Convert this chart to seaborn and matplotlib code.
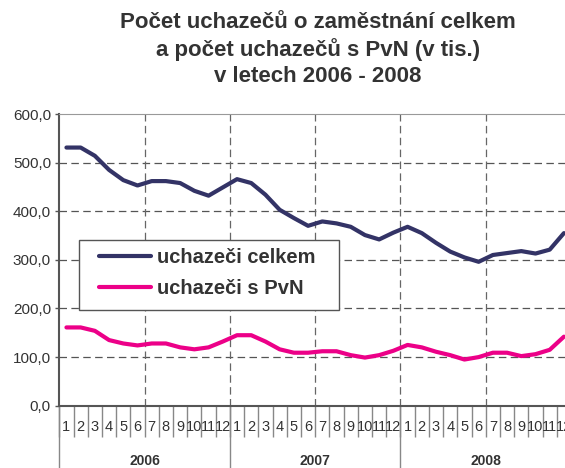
import numpy as np
import pandas as pd
import matplotlib
matplotlib.use('Agg')
import matplotlib.pyplot as plt
from matplotlib.patches import Rectangle
import seaborn as sns


# DATA (v tis.) - months 2006..2008
years = ['2006', '2007', '2008']
months = [str(m) for m in range(1, 13)] * 3

celkem = [531, 531, 514, 485, 464, 453, 462, 462, 458, 442, 432, 449,
          466, 458, 434, 403, 386, 370, 379, 375, 368, 351, 342, 356,
          368, 355, 335, 317, 305, 296, 310, 314, 318, 313, 321, 355]

pvn = [161, 161, 154, 135, 128, 124, 128, 128, 120, 116, 120, 132,
       145, 145, 132, 116, 109, 109, 112, 112, 104, 99, 104, 113,
       125, 120, 111, 104, 95, 100, 109, 109, 102, 106, 115, 142]

labels = ['uchazeči celkem', 'uchazeči s PvN']
colors = ['#333366', '#EC0088']

df = pd.DataFrame({
    'idx': list(range(36)) * 2,
    'value': celkem + pvn,
    'series': [labels[0]] * 36 + [labels[1]] * 36,
})

sns.set_style('white')
plt.rcParams['font.family'] = ['Liberation Sans', 'DejaVu Sans']

fig = plt.figure(figsize=(5.65, 4.68), dpi=100)
ax = fig.add_axes([0.105, 0.1331, 0.9057, 0.6233])

sns.lineplot(data=df, x='idx', y='value', hue='series',
             palette=colors, linewidth=3, legend=False, ax=ax)
data_lines = list(ax.lines[:2])

ax.set_xlim(-0.5, 35.5)
ax.set_ylim(0, 600)
ax.set_xlabel('')
ax.set_ylabel('')

# Y AXIS
ax.set_yticks(np.arange(0, 601, 100))
ax.set_yticklabels(['%d,0' % v for v in range(0, 601, 100)])
ax.tick_params(axis='y', direction='out', length=3, width=1, color='#555555',
               labelsize=11, labelcolor='#333333', pad=3, left=True)

# horizontal dashed grid
for v in range(100, 600, 100):
    ax.axhline(v, color='#555555', lw=0.9, ls=(0, (6, 3.5)), zorder=0)
# vertical dashed grid every 6 months
for b in [5.5, 11.5, 17.5, 23.5, 29.5]:
    ax.axvline(b, color='#666666', lw=0.9, ls=(0, (6, 3.5)), zorder=0)

# X AXIS: separators as major ticks, month labels as minor ticks
ax.set_xticks(np.arange(-0.5, 36, 1))
ax.set_xticklabels([])
ax.tick_params(axis='x', which='major', direction='out', length=22.5,
               width=1, color='#888888', bottom=True)
ax.set_xticks(np.arange(0, 36), minor=True)
ax.set_xticklabels(months, minor=True)
ax.tick_params(axis='x', which='minor', length=0, pad=10.5, labelsize=10.5,
               labelcolor='#333333')

# year separators down to the bottom
for b in [-0.5, 11.5, 23.5]:
    ax.plot([b, b], [0, -0.22], color='#888888', lw=1, clip_on=False,
            transform=ax.get_xaxis_transform())

for i, y in enumerate(years):
    ax.annotate(y, xy=(i * 12 + 5.5, 0), xycoords=('data', 'axes fraction'),
                xytext=(0, -35), textcoords='offset points',
                ha='center', va='top', fontsize=10, fontweight='bold',
                color='#333333')

for side in ['left', 'bottom']:
    ax.spines[side].set_color('#555555')
    ax.spines[side].set_linewidth(1.5)
ax.spines['top'].set_color('#999999')
ax.spines['right'].set_visible(False)

# LEGEND
frame = Rectangle((79 / 565, 1 - 309.5 / 468), 260 / 565, 69.5 / 468,
                  transform=fig.transFigure, facecolor='white',
                  edgecolor='#555555', lw=1, zorder=5, clip_on=False)
ax.add_patch(frame)
leg = ax.legend(data_lines, labels, loc='center left',
                bbox_to_anchor=(99 / 565, 1 - 273 / 468),
                bbox_transform=fig.transFigure, frameon=False,
                borderpad=0, borderaxespad=0, handlelength=2.6,
                handletextpad=0.28, labelspacing=0.6,
                prop={'size': 14.5, 'weight': 'bold'},
                labelcolor='#333333')
leg.set_zorder(6)
for line in leg.get_lines():
    line.set_linewidth(3)

# TITLE
title_lines = ['Počet uchazečů o zaměstnání celkem',
               'a počet uchazečů s PvN (v tis.)',
               'v letech 2006 - 2008']
for k, t in enumerate(title_lines):
    fig.text(0.563, 1 - (23 + 27 * k) / 468, t, ha='center', va='center',
             fontsize=16, fontweight='bold', color='#333333')

fig.savefig('out.png', dpi=100)
